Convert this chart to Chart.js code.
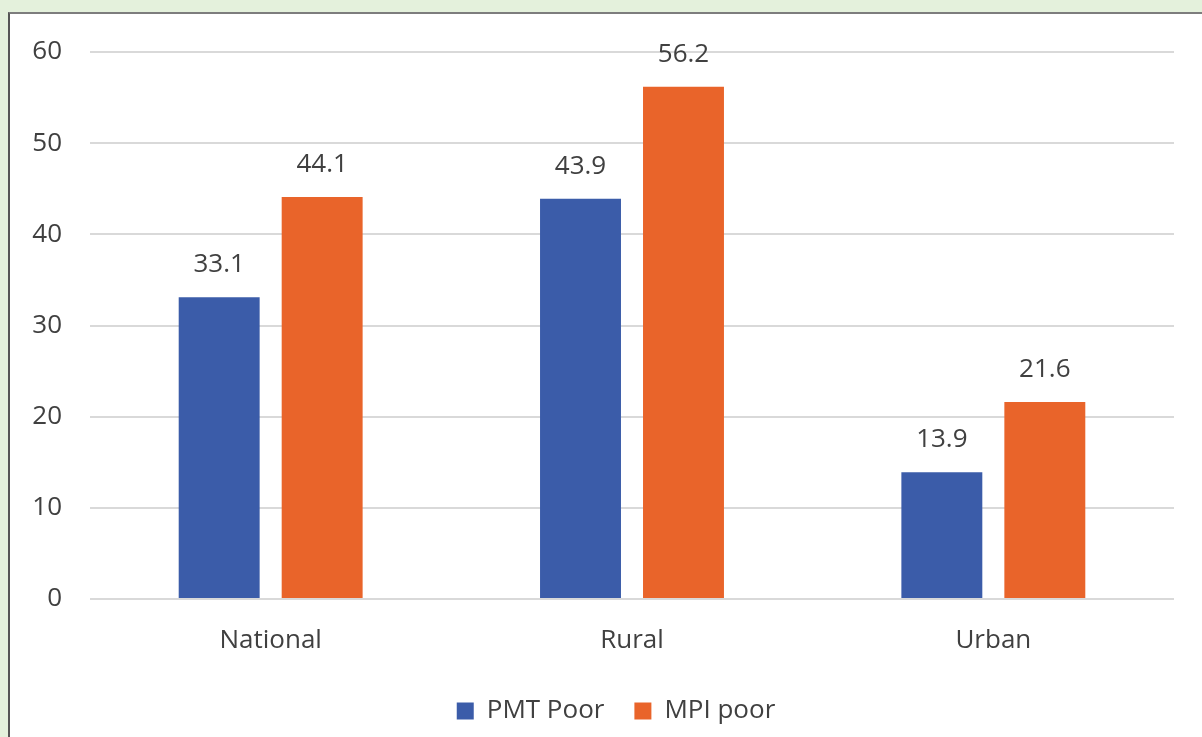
<!DOCTYPE html>
<html><head><meta charset="utf-8">
<script src="https://cdn.jsdelivr.net/npm/chart.js@4"></script>
<style>
html,body{margin:0;padding:0;background:#e4f1dc;width:1202px;height:737px;overflow:hidden}
#frame{position:absolute;left:8px;top:12px;right:0;bottom:0;background:#fff;border-left:2px solid #555;border-top:2px solid #7d7d7d}
#wrap{position:absolute;left:0;top:0;width:1202px;height:737px}
</style></head><body>
<div id="frame"></div>
<div id="wrap"><canvas id="c"></canvas></div>
<script>
const categories = ["National", "Rural", "Urban"];
const pmtPoor = [33.1, 43.9, 13.9];
const mpiPoor = [44.1, 56.2, 21.6];
const seriesNames = ["PMT Poor", "MPI poor"];
const yTicks = [0, 10, 20, 30, 40, 50, 60];

const FONT = "'Open Sans', 'Noto Sans', sans-serif";
const TEXT = '#404040';

const labelPlugin = {
  id: 'barLabels',
  afterLayout(chart) {
    // centre the legend under the plot area rather than the whole canvas
    const lg = chart.legend;
    if (lg) { lg.left += 58; lg.width -= 58; }
  },
  afterDatasetsDraw(chart) {
    const ctx = chart.ctx;
    ctx.save();
    ctx.font = '26px ' + FONT;
    ctx.fillStyle = TEXT;
    ctx.textAlign = 'center';
    ctx.textBaseline = 'alphabetic';
    chart.data.datasets.forEach((ds, i) => {
      chart.getDatasetMeta(i).data.forEach((bar, j) => {
        ctx.fillText(ds.data[j].toFixed(1), bar.x, bar.y - 25);
      });
    });
    ctx.restore();
  }
};

new Chart(document.getElementById('c'), {
  type: 'bar',
  data: {
    labels: categories,
    datasets: [
      { label: seriesNames[0], data: pmtPoor, backgroundColor: '#3b5ca9' },
      { label: seriesNames[1], data: mpiPoor, backgroundColor: '#e9642a' }
    ]
  },
  options: {
    responsive: true,
    maintainAspectRatio: false,
    animation: false,
    devicePixelRatio: 1,
    categoryPercentage: 0.57,
    barPercentage: 0.786,
    layout: { padding: { left: 0, right: 28, top: 52, bottom: 3 } },
    scales: {
      y: {
        min: 0, max: 60,
        afterBuildTicks(scale) { scale.ticks = yTicks.map(v => ({ value: v })); },
        afterFit(scale) { scale.width = 90; },
        ticks: { font: { size: 26, family: FONT }, color: TEXT, padding: 28 },
        grid: { color: '#d9d9d9', lineWidth: 2, drawTicks: false },
        border: { display: false }
      },
      x: {
        afterFit(scale) { scale.height = 69; },
        ticks: { font: { size: 26, family: FONT }, color: TEXT, padding: 26 },
        grid: { display: false, drawTicks: false },
        border: { display: false }
      }
    },
    plugins: {
      legend: {
        position: 'bottom',
        labels: { font: { size: 26, family: FONT }, color: TEXT, boxWidth: 17, boxHeight: 17, padding: 30 }
      },
      tooltip: { enabled: false }
    }
  },
  plugins: [labelPlugin]
});
</script>
</body></html>
